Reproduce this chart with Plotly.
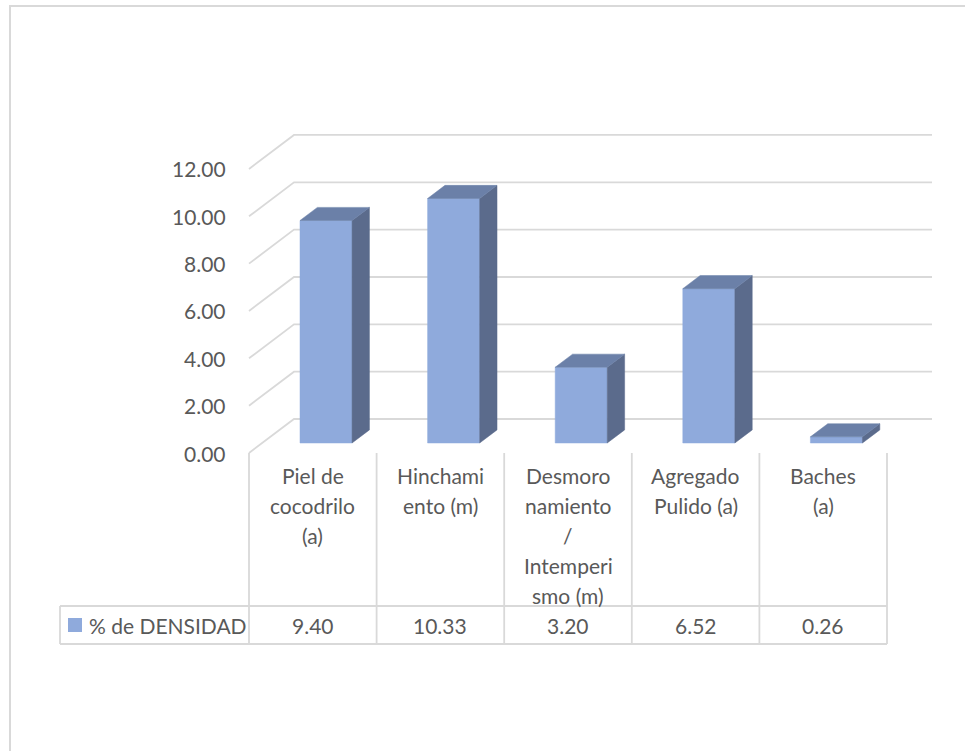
import plotly.graph_objects as go

# ---- data -------------------------------------------------------------
categories = [
    "Piel de<br>cocodrilo<br>(a)",
    "Hinchami<br>ento (m)",
    "Desmoro<br>namiento<br>/<br>Intemperi<br>smo (m)",
    "Agregado<br>Pulido (a)",
    "Baches<br>(a)",
]
densidad = [9.40, 10.33, 3.20, 6.52, 0.26]
y_ticks = [0, 2, 4, 6, 8, 10, 12]
series_name = "% de DENSIDAD"

# ---- page geometry (pixels) ------------------------------------------
W, H = 965, 751
X0_PX = 249.0      # front plane, left edge of the first category
CAT_PX = 127.6     # width of one category
Y0_PX = 453.0      # front plane value 0
UNIT_PX = 23.67    # pixels per value unit


def dx(px):
    return (px - X0_PX) / CAT_PX


def dy(py):
    return (Y0_PX - py) / UNIT_PX


# oblique depth (front -> back wall)
DEPTH_X = 45.0 / CAT_PX
DEPTH_Y = 34.0 / UNIT_PX
BAR_FRONT = 0.294
BAR_BACK = 0.68
BAR_W = 0.408

GRID = "#d9d9d9"
TEXT = "#595959"
FONT = "Lato, 'Open Sans', sans-serif"
FRONT = "#8faadc"
TOP = "#6b80a8"
SIDE = "#5b6b8c"

n = len(categories)
fig = go.Figure()

# back wall gridlines + left wall diagonals
gx, gy = [], []
for t in y_ticks:
    gx += [0, DEPTH_X, n + DEPTH_X, None]
    gy += [t, t + DEPTH_Y, t + DEPTH_Y, None]
fig.add_trace(go.Scatter(x=gx, y=gy, mode="lines", hoverinfo="skip",
                         line=dict(color=GRID, width=1.8), showlegend=False))

# 3-D columns (oblique projection)
for i, v in enumerate(densidad):
    c = i + 0.5
    xl_f = c - BAR_W / 2 + BAR_FRONT * DEPTH_X
    xr_f = c + BAR_W / 2 + BAR_FRONT * DEPTH_X
    xl_b = c - BAR_W / 2 + BAR_BACK * DEPTH_X
    xr_b = c + BAR_W / 2 + BAR_BACK * DEPTH_X
    yf = BAR_FRONT * DEPTH_Y
    yb = BAR_BACK * DEPTH_Y
    faces = [
        ([xl_f, xr_f, xr_f, xl_f, xl_f], [yf, yf, yf + v, yf + v, yf], FRONT),
        ([xr_f, xr_b, xr_b, xr_f, xr_f], [yf, yb, yb + v, yf + v, yf], SIDE),
        ([xl_f, xr_f, xr_b, xl_b, xl_f], [yf + v, yf + v, yb + v, yb + v, yf + v], TOP),
    ]
    for fx, fy, col in faces:
        fig.add_trace(go.Scatter(x=fx, y=fy, mode="lines", fill="toself",
                                 fillcolor=col, line=dict(color=col, width=0.5),
                                 hoverinfo="skip", showlegend=False))

annotations = []
# value axis labels on the front plane
for t in y_ticks:
    annotations.append(dict(x=dx(228), y=t, text=f"{t:.2f}", showarrow=False,
                            xanchor="right", yanchor="middle",
                            font=dict(family=FONT, size=21, color=TEXT)))

# data table
TBL_TOP = 606
TBL_BOT = 644
LEFT_PX = 60
lx, ly = [], []
for k in range(n + 1):
    lx += [k, k, None]
    ly += [dy(Y0_PX), dy(TBL_BOT), None]
lx += [dx(LEFT_PX), n, None, dx(LEFT_PX), n, None, dx(LEFT_PX), dx(LEFT_PX), None]
ly += [dy(TBL_TOP), dy(TBL_TOP), None, dy(TBL_BOT), dy(TBL_BOT), None,
       dy(TBL_TOP), dy(TBL_BOT), None]
fig.add_trace(go.Scatter(x=lx, y=ly, mode="lines", hoverinfo="skip",
                         line=dict(color=GRID, width=1.8), showlegend=False))

for i, (cat, v) in enumerate(zip(categories, densidad)):
    for k, line in enumerate(cat.split("<br>")):
        annotations.append(dict(x=i + 0.5, y=dy(475 + 30 * k), text=line,
                                showarrow=False, xanchor="center", yanchor="middle",
                                font=dict(family=FONT, size=21, color=TEXT)))
    annotations.append(dict(x=i + 0.5, y=dy(625), text=f"{v:.2f}", showarrow=False,
                            xanchor="center", yanchor="middle",
                            font=dict(family=FONT, size=21, color=TEXT)))

# legend key inside the table
fig.add_trace(go.Scatter(x=[dx(75)], y=[dy(625)], mode="markers", hoverinfo="skip",
                         marker=dict(symbol="square", size=14, color=FRONT),
                         showlegend=False))
annotations.append(dict(x=dx(87), y=dy(625), text=series_name, showarrow=False,
                        xanchor="left", yanchor="middle",
                        font=dict(family=FONT, size=21, color=TEXT)))

fig.update_layout(
    width=W, height=H, autosize=False,
    margin=dict(l=0, r=0, t=0, b=0),
    paper_bgcolor="white", plot_bgcolor="white",
    xaxis=dict(range=[dx(0), dx(W)], visible=False, fixedrange=True),
    yaxis=dict(range=[dy(H), dy(0)], visible=False, fixedrange=True),
    annotations=annotations,
    shapes=[dict(type="rect", xref="paper", yref="paper",
                 x0=10 / W, x1=1.02, y0=-0.02, y1=1 - 6 / H,
                 line=dict(color=GRID, width=2))],
    showlegend=False,
)

fig.write_html("out.html")
